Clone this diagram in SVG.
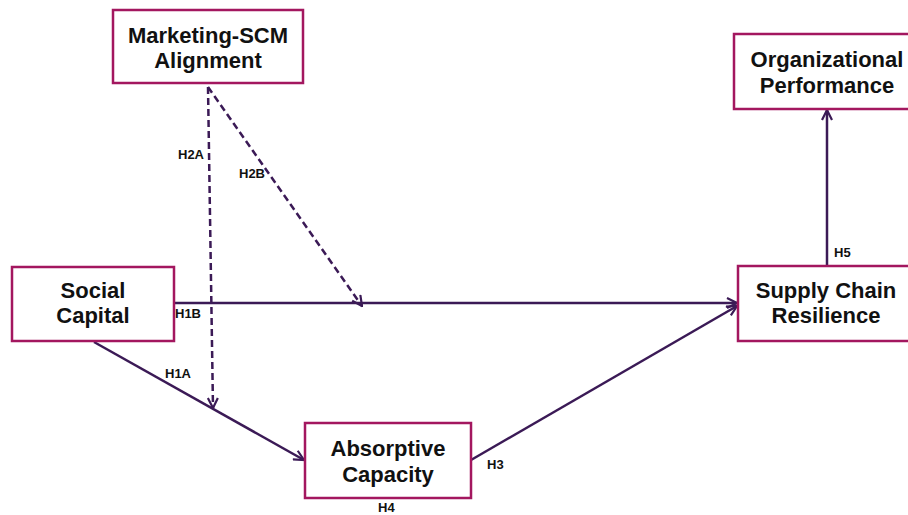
<svg xmlns="http://www.w3.org/2000/svg" width="908" height="515" viewBox="0 0 908 515">
<defs>
<style>
.box{fill:#fff;stroke:#A3175F;stroke-width:2.5}
.t{font-family:"Liberation Sans",Arial,sans-serif;font-weight:bold;font-size:22px;fill:#111;text-anchor:middle}
.lb{font-family:"Liberation Sans",Arial,sans-serif;font-weight:bold;font-size:13px;fill:#111}
.c{stroke:#3B1A56;stroke-width:2.5;fill:none;marker-end:url(#ah)}
.d{stroke-dasharray:7 4}
</style>
<marker id="ah" viewBox="0 0 12 12" refX="11" refY="6" markerWidth="12" markerHeight="12" markerUnits="userSpaceOnUse" orient="auto">
<path d="M1,1 L11,6 L1,11" fill="none" stroke="#3B1A56" stroke-width="2.2"/>
</marker>
</defs>
<rect width="908" height="515" fill="#fff"/>
<g id="connectors">
<path class="c d" d="M208,87 L213,408"/>
<path class="c d" d="M208,87 L362,306"/>
<path class="c" d="M174,303 L737,303"/>
<path class="c" d="M94,342 L304,460"/>
<path class="c" d="M471,460 L737,306"/>
<path class="c" d="M827,266 L827,110"/>
</g>
<g id="labels">
<text class="lb" x="178" y="159">H2A</text>
<text class="lb" x="239" y="178">H2B</text>
<text class="lb" x="175" y="318">H1B</text>
<text class="lb" x="165" y="378">H1A</text>
<text class="lb" x="487" y="469">H3</text>
<text class="lb" x="378" y="512">H4</text>
<text class="lb" x="834" y="257">H5</text>
</g>
<g id="marketing">
<rect class="box" x="113" y="10" width="190" height="73"/>
<text class="t" x="208" y="43">Marketing-SCM</text>
<text class="t" x="208" y="68">Alignment</text>
</g>
<g id="orgperf">
<rect class="box" x="734" y="34" width="190" height="75"/>
<text class="t" x="827" y="67">Organizational</text>
<text class="t" x="827" y="93">Performance</text>
</g>
<g id="social">
<rect class="box" x="12" y="267" width="162" height="74"/>
<text class="t" x="93" y="298">Social</text>
<text class="t" x="93" y="323">Capital</text>
</g>
<g id="scr">
<rect class="box" x="738" y="266" width="190" height="75"/>
<text class="t" x="826" y="298">Supply Chain</text>
<text class="t" x="826" y="323">Resilience</text>
</g>
<g id="absorptive">
<rect class="box" x="305" y="423" width="166" height="75"/>
<text class="t" x="388" y="456">Absorptive</text>
<text class="t" x="388" y="482">Capacity</text>
</g>
</svg>
